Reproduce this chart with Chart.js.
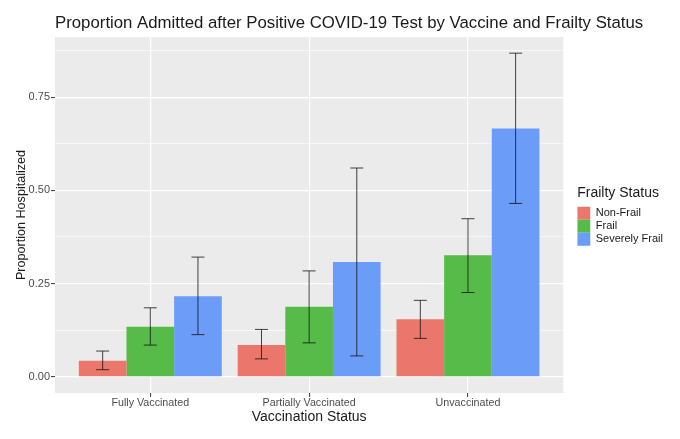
<!DOCTYPE html>
<html>
<head>
<meta charset="utf-8">
<script src="https://cdn.jsdelivr.net/npm/chart.js@4.4.1/dist/chart.umd.min.js"></script>
<style>
  html, body { margin: 0; padding: 0; background: #fff; }
  #wrap { width: 680px; height: 439px; }
</style>
</head>
<body>
<div id="wrap"><canvas id="chart" width="680" height="439"></canvas></div>
<script>
const categories = ['Fully Vaccinated', 'Partially Vaccinated', 'Unvaccinated']
const groups = ['Non-Frail', 'Frail', 'Severely Frail']

const nonFrail = [0.043, 0.085, 0.154]
const nonFrailLow = [0.019, 0.048, 0.103]
const nonFrailHigh = [0.069, 0.127, 0.205]

const frail = [0.134, 0.188, 0.326]
const frailLow = [0.085, 0.091, 0.226]
const frailHigh = [0.185, 0.284, 0.424]

const severelyFrail = [0.216, 0.308, 0.666]
const severelyFrailLow = [0.113, 0.056, 0.465]
const severelyFrailHigh = [0.321, 0.560, 0.868]

const yTicks = [0, 0.125, 0.25, 0.375, 0.5, 0.625, 0.75, 0.875]
const yLabels = ['0.00', '', '0.25', '', '0.50', '', '0.75', '']

const colors = ['#EB766C', '#56BB48', '#6A9CF8']
const font = 'Arial, "Liberation Sans", sans-serif'

const seriesValues = [nonFrail, frail, severelyFrail]
const seriesLow = [nonFrailLow, frailLow, severelyFrailLow]
const seriesHigh = [nonFrailHigh, frailHigh, severelyFrailHigh]

const toPoints = (values) => values.map((v, i) => ({ x: i + 1, y: v }))

// panel background like ggplot
const panelBg = {
  id: 'panelBg',
  beforeDraw(chart) {
    const { ctx, chartArea: a } = chart
    ctx.save()
    ctx.fillStyle = '#EBEBEB'
    ctx.fillRect(a.left, a.top, a.right - a.left, a.bottom - a.top)
    ctx.restore()
  }
}

// error bars from the low/high arrays
const errorBars = {
  id: 'errorBars',
  afterDatasetsDraw(chart) {
    const { ctx } = chart
    const y = chart.scales.y
    ctx.save()
    ctx.strokeStyle = 'rgba(20,20,20,0.8)'
    ctx.lineWidth = 1
    seriesLow.forEach((lows, i) => {
      const meta = chart.getDatasetMeta(i)
      meta.data.forEach((bar, j) => {
        const top = y.getPixelForValue(seriesHigh[i][j])
        const bottom = y.getPixelForValue(lows[j])
        const cap = 6.5
        ctx.beginPath()
        ctx.moveTo(bar.x, top)
        ctx.lineTo(bar.x, bottom)
        ctx.moveTo(bar.x - cap, top)
        ctx.lineTo(bar.x + cap, top)
        ctx.moveTo(bar.x - cap, bottom)
        ctx.lineTo(bar.x + cap, bottom)
        ctx.stroke()
      })
    })
    ctx.restore()
  }
}

// title left aligned with the panel
const plotTitle = {
  id: 'plotTitle',
  afterDraw(chart) {
    const { ctx, chartArea } = chart
    ctx.save()
    ctx.font = `16.8px ${font}`
    ctx.fillStyle = '#1A1A1A'
    ctx.textBaseline = 'middle'
    ctx.textAlign = 'left'
    ctx.fillText('Proportion Admitted after Positive COVID-19 Test by Vaccine and Frailty Status', chartArea.left, 23)
    ctx.restore()
  }
}

const chart = new Chart(document.getElementById('chart'), {
  type: 'bar',
  data: {
    datasets: groups.map((g, i) => ({
      label: g,
      data: toPoints(seriesValues[i]),
      backgroundColor: colors[i],
      borderWidth: 0,
      categoryPercentage: 0.9,
      barPercentage: 1.0
    }))
  },
  options: {
    responsive: false,
    animation: false,
    layout: { padding: { top: 37, left: 5, right: 7, bottom: 15.2 } },
    plugins: {
      tooltip: { enabled: false },
      title: { display: false },
      legend: {
        position: 'right',
        align: 'start',
        title: {
          display: true,
          text: 'Frailty Status',
          position: 'start',
          color: '#1A1A1A',
          font: { family: font, size: 14 },
          padding: { top: 148.7, bottom: 4.2 }
        },
        labels: {
          boxWidth: 13,
          boxHeight: 13,
          padding: 0,
          color: '#1A1A1A',
          font: { family: font, size: 11 }
        }
      }
    },
    scales: {
      x: {
        type: 'linear',
        min: 0.4,
        max: 3.6,
        offset: false,
        afterBuildTicks: (axis) => { axis.ticks = categories.map((c, i) => ({ value: i + 1 })) },
        ticks: {
          autoSkip: false,
          maxRotation: 0,
          padding: 0,
          color: '#4D4D4D',
          font: { family: font, size: 10.7 },
          callback: (v) => categories[v - 1]
        },
        grid: { offset: false, color: '#FFFFFF', lineWidth: 1.2, tickLength: 4, tickColor: '#333333', tickWidth: 1 },
        border: { display: false },
        title: {
          display: true,
          text: 'Vaccination Status',
          color: '#1A1A1A',
          font: { family: font, size: 14, lineHeight: 1 },
          padding: { top: 0, bottom: 0 }
        }
      },
      y: {
        min: -0.0434,
        max: 0.9114,
        afterBuildTicks: (axis) => { axis.ticks = yTicks.map(v => ({ value: v })) },
        ticks: {
          autoSkip: false,
          padding: 1,
          color: '#4D4D4D',
          font: { family: font, size: 11 },
          callback: (v) => yLabels[yTicks.indexOf(v)]
        },
        grid: {
          color: '#FFFFFF',
          lineWidth: (ctx) => (yLabels[ctx.index] ? 1.2 : 0.6),
          tickLength: 4,
          tickColor: (ctx) => (yLabels[ctx.index] ? '#333333' : 'rgba(0,0,0,0)'),
          tickWidth: 1
        },
        border: { display: false },
        title: {
          display: true,
          text: 'Proportion Hospitalized',
          color: '#1A1A1A',
          font: { family: font, size: 12.6, lineHeight: 1 },
          padding: { top: 10, bottom: 0 }
        }
      },
      y2: {
        position: 'right',
        display: true,
        grid: { display: false },
        ticks: { display: false },
        border: { display: false },
        afterFit: (axis) => { axis.width = 14 }
      }
    }
  },
  plugins: [panelBg, errorBars, plotTitle]
})
</script>
</body>
</html>
